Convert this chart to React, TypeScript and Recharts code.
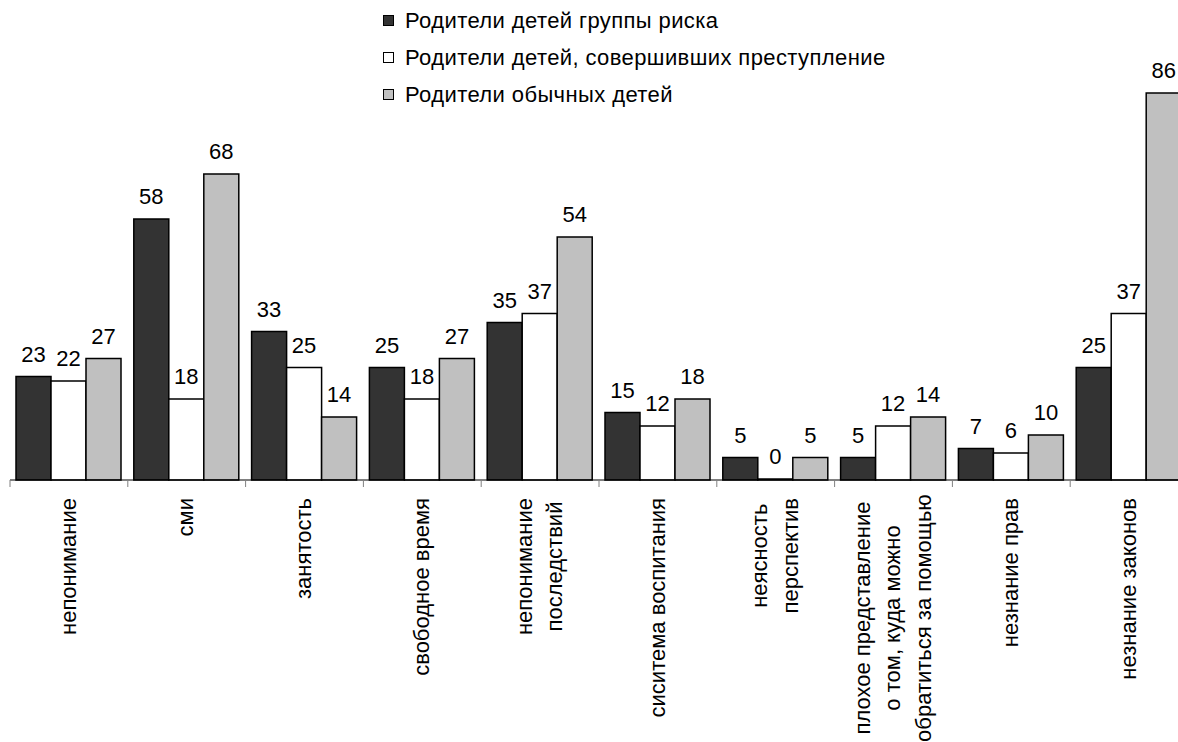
import React from "react";
import { BarChart, Bar, XAxis, YAxis, LabelList } from "recharts";

const categories = [
  "непонимание",
  "сми",
  "занятость",
  "свободное время",
  "непонимание\nпоследствий",
  "сиситема воспитания",
  "неясность\nперспектив",
  "плохое представление\nо том, куда можно\nобратиться за помощью",
  "незнание прав",
  "незнание законов",
];

const riskGroup = [23, 58, 33, 25, 35, 15, 5, 5, 7, 25];
const offenders = [22, 18, 25, 18, 37, 12, 0, 12, 6, 37];
const ordinary = [27, 68, 14, 27, 54, 18, 5, 14, 10, 86];

const seriesNames = [
  "Родители детей группы риска",
  "Родители детей, совершивших преступление",
  "Родители обычных детей",
];
const seriesColors = ["#333333", "#ffffff", "#c0c0c0"];

const FONT = "'Liberation Sans', Arial, sans-serif";
const FS = 22;
const CHART_W = 1200;
const CHART_H = 734;
const MARGIN = { top: 22, right: 20, bottom: 12, left: 2 };
const STEP = (CHART_W - MARGIN.left - MARGIN.right) / categories.length;

const data = categories.map((name, i) => ({
  name,
  risk: riskGroup[i],
  crime: offenders[i],
  normal: ordinary[i],
}));

let ctx: CanvasRenderingContext2D | null = null;
function measure(s: string): number {
  if (!ctx) ctx = document.createElement("canvas").getContext("2d");
  if (!ctx) return s.length * 11;
  ctx.font = `${FS}px ${FONT}`;
  return ctx.measureText(s).width;
}

function CategoryTick(props: any) {
  const { x, y, payload, index } = props;
  const lines: string[] = String(payload.value).split("\n");
  const maxW = Math.min(Math.max(...lines.map(measure)), 240);
  const top = y + 18;
  return (
    <g>
      <line x1={x - STEP / 2} x2={x - STEP / 2} y1={y} y2={y + 7} stroke="#808080" />
      {index === categories.length - 1 && (
        <line x1={x + STEP / 2} x2={x + STEP / 2} y1={y} y2={y + 7} stroke="#808080" />
      )}
      {lines.map((ln, i) => {
        const lx = x - 1 + (i - (lines.length - 1) / 2) * 30.5;
        const ly = top + maxW / 2;
        return (
          <text
            key={i}
            x={lx}
            y={ly}
            dy="0.35em"
            textAnchor="middle"
            transform={`rotate(-90, ${lx}, ${ly})`}
            fontSize={FS}
            fontFamily={FONT}
            fill="#000"
          >
            {ln}
          </text>
        );
      })}
    </g>
  );
}

function ChartLegend() {
  return (
    <div style={{ position: "absolute", left: 375, top: -6, fontFamily: FONT, fontSize: FS, letterSpacing: 0.4 }}>
      {seriesNames.map((n, i) => (
        <div key={n} style={{ display: "flex", alignItems: "center", height: 37, whiteSpace: "nowrap" }}>
          <span
            style={{
              display: "inline-block", width: 9, height: 9, marginRight: 11,
              background: seriesColors[i], border: "1px solid #000",
            }}
          />
          <span>{n}</span>
        </div>
      ))}
    </div>
  );
}

const labelStyle = { fontSize: FS, fontFamily: FONT, fill: "#000" };

export default function App() {
  return (
    <div style={{ position: "fixed", left: 0, top: 0, width: 1178, height: 742, overflow: "hidden", background: "#fff" }}>
      <div style={{ position: "absolute", left: 8, top: 8, width: CHART_W, height: CHART_H }}>
        <BarChart
          width={CHART_W}
          height={CHART_H}
          data={data}
          margin={MARGIN}
          barGap={0}
          barCategoryGap={6}
        >
          <XAxis
            dataKey="name"
            interval={0}
            height={250}
            tickSize={0}
            tickMargin={0}
            tickLine={false}
            axisLine={{ stroke: "#000" }}
            tick={<CategoryTick />}
          />
          <YAxis hide domain={[0, 100]} />
          <Bar dataKey="risk" name={seriesNames[0]} fill={seriesColors[0]} stroke="#000" strokeWidth={1.5} isAnimationActive={false}>
            <LabelList dataKey="risk" position="top" offset={15} style={labelStyle} />
          </Bar>
          <Bar dataKey="crime" name={seriesNames[1]} fill={seriesColors[1]} stroke="#000" strokeWidth={1.5} minPointSize={1} isAnimationActive={false}>
            <LabelList dataKey="crime" position="top" offset={15} style={labelStyle} />
          </Bar>
          <Bar dataKey="normal" name={seriesNames[2]} fill={seriesColors[2]} stroke="#000" strokeWidth={1.5} isAnimationActive={false}>
            <LabelList dataKey="normal" position="top" offset={15} style={labelStyle} />
          </Bar>
        </BarChart>
        <ChartLegend />
      </div>
    </div>
  );
}
